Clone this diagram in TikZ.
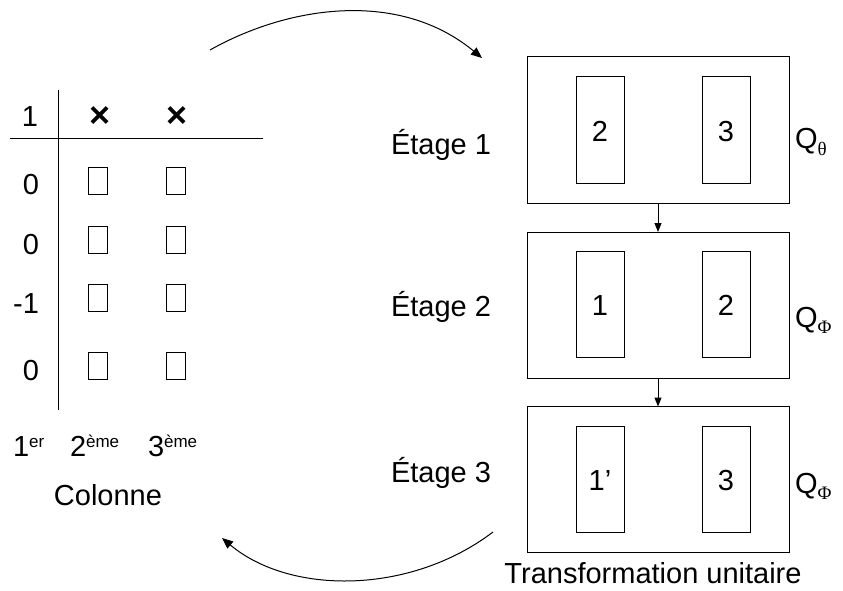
\documentclass[tikz,border=0pt]{standalone}
\usepackage{fontspec}
\setmainfont{Liberation Sans}
\newfontfamily\serifgr{Liberation Serif}
\usetikzlibrary{arrows.meta}
\begin{document}
\begin{tikzpicture}[x=1pt,y=-1pt,
  every node/.style={inner sep=0pt,outer sep=0pt},
  lbl/.style={font=\fontsize{29}{34}\selectfont,anchor=base},
  lblw/.style={font=\fontsize{29}{34}\selectfont,anchor=base west},
  cross/.style={font=\fontsize{36}{40}\selectfont\bfseries},
  outerbox/.style={draw,line width=1pt,minimum width=262pt,minimum height=146pt},
  innerbox/.style={draw,line width=1pt,minimum width=48pt,minimum height=106pt},
  cell/.style={draw,line width=0.8pt,minimum width=19pt,minimum height=27pt},
  tline/.style={line width=1pt},
  bigarrow/.style={line width=1pt,-{Triangle[length=11pt,width=9pt]}},
  smallarrow/.style={line width=1pt,-{Triangle[length=9pt,width=7pt]}}]
\useasboundingbox (0,0) rectangle (843,591);
% ---- table ----
\coordinate (vt) at (58,90);
\coordinate (vb) at (58,410);
\coordinate (hl) at (10,139);
\coordinate (hr) at (263,139);
\draw[tline] (vt) -- (vb);
\draw[tline] (hl) -- (hr);
\node[lbl] (h1) at (30,127) {1};
\node[cross] (x1) at (100,117) {×};
\node[cross] (x2) at (177,117) {×};
\node[lbl] (r1) at (31,194) {0};
\node[lbl] (r2) at (31,254) {0};
\node[lbl] (r3) at (26,313) {-1};
\node[lbl] (r4) at (31,380) {0};
\foreach \y/\n in {181/1,240/2,298/3,366/4}{
  \node[cell] (ca\n) at (97.5,\y) {};
  \node[cell] (cb\n) at (175.5,\y) {};
}
\node[lblw] (c1) at (13,456) {1\raisebox{9pt}{\fontsize{17}{20}\selectfont er}};
\node[lblw] (c2) at (70,456) {2\raisebox{9pt}{\fontsize{17}{20}\selectfont ème}};
\node[lblw] (c3) at (148,456) {3\raisebox{9pt}{\fontsize{17}{20}\selectfont ème}};
\node[lbl] (col) at (108,505) {Colonne};
% ---- stages ----
\node[outerbox] (b1) at (658,130) {};
\node[outerbox] (b2) at (658,305) {};
\node[outerbox] (b3) at (658,479.5) {};
\node[innerbox] (i11) at (600,130) {};
\node[innerbox] (i12) at (726,130) {};
\node[innerbox] (i21) at (600,304.5) {};
\node[innerbox] (i22) at (726,304.5) {};
\node[innerbox] (i31) at (600,479.5) {};
\node[innerbox] (i32) at (726,479.5) {};
\node[lbl] (n11) at (600,142) {2};
\node[lbl] (n12) at (726,142) {3};
\node[lbl] (n21) at (600,315) {1};
\node[lbl] (n22) at (726,315) {2};
\node[lbl] (n31) at (600,490) {1’};
\node[lbl] (n32) at (726,490) {3};
\node[lbl] (e1) at (441,154) {Étage 1};
\node[lbl] (e2) at (441,316) {Étage 2};
\node[lbl] (e3) at (441,482) {Étage 3};
\node[lblw] (q1) at (795,149) {Q\raisebox{-6pt}{\serifgr\fontsize{19}{21}\selectfont θ}};
\node[lblw] (q2) at (795,327) {Q\raisebox{-6pt}{\serifgr\fontsize{19}{21}\selectfont Φ}};
\node[lblw] (q3) at (795,493) {Q\raisebox{-6pt}{\serifgr\fontsize{19}{21}\selectfont Φ}};
\node[lbl] (tu) at (653,583) {Transformation unitaire};
\draw[smallarrow] (b1.south) -- (b2.north);
\draw[smallarrow] (b2.south) -- (b3.north);
% ---- curved arrows ----
\coordinate (ta) at (210,50);
\coordinate (tb) at (482,58);
\coordinate (ba) at (493,532);
\coordinate (bb) at (222,538);
\draw[bigarrow] (ta) .. controls (290,5) and (400,-10) .. (tb);
\draw[bigarrow] (ba) .. controls (410,595) and (290,595) .. (bb);
\end{tikzpicture}
\end{document}
